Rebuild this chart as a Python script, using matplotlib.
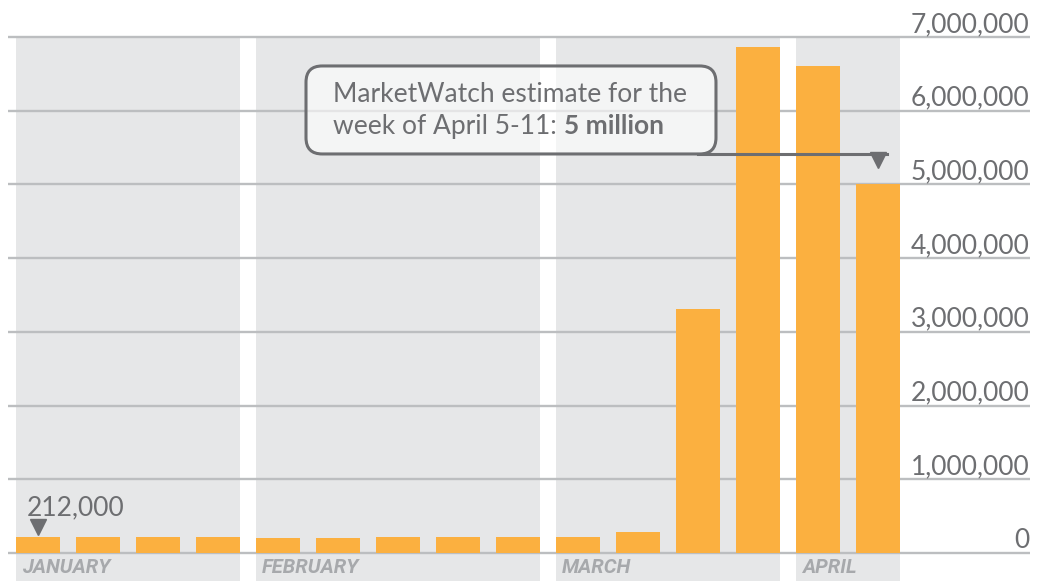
import numpy as np
import matplotlib
matplotlib.use("Agg")
import matplotlib.pyplot as plt
from matplotlib.patches import FancyBboxPatch

# weekly initial jobless claims, Jan - Apr 2020
claims = [212000, 211000, 223000, 214000, 205000, 204000, 222000, 222000, 221000,
          211000, 282000, 3307000, 6867000, 6606000, 5000000]
months = ["JANUARY", "FEBRUARY", "MARCH", "APRIL"]
weeks_per_month = [4, 5, 4, 2]
yticks = [0, 1000000, 2000000, 3000000, 4000000, 5000000, 6000000, 7000000]

BAR    = '#fbb040'
SHADE  = '#e6e7e8'
GRID   = '#bcbec0'
TXT    = '#6d6e71'
MONTH  = '#a7a9ac'

plt.rcParams['font.family'] = ['Lato', 'DejaVu Sans']

fig = plt.figure(figsize=(10.38, 5.81), dpi=100)
ax = fig.add_axes([0, 0, 1, 1])
ax.set_xlim(-0.633, 16.667)
ax.set_ylim(-380000, 7503000)
ax.axis('off')

x = np.arange(len(claims))
w = 0.733

# month bands
start = 0
for name, n in zip(months, weeks_per_month):
    x0 = x[start] - w / 2
    x1 = x[start + n - 1] + w / 2
    ax.fill_between([x0, x1], -400000, 7000000, color=SHADE, lw=0, zorder=0)
    ax.text(x0 + 0.1, -275000, name, color=MONTH, fontsize=14.5, fontweight='bold',
            fontstyle='italic', family=['Roboto', 'DejaVu Sans'], va='baseline', zorder=3)
    start += n

# gridlines + labels
for t in yticks:
    ax.plot([-0.5, 16.53], [t, t], color=GRID, lw=1.7, zorder=1, solid_capstyle='butt')
    ax.text(16.53, t + 70000, f"{t:,}", ha='right', va='baseline', color=TXT, fontsize=19)

ax.bar(x, claims, width=w, color=BAR, zorder=2)

# first-week callout
ax.text(-0.18, 516000, f"{claims[0]:,}", color=TXT, fontsize=19, va='baseline', zorder=4)
ax.plot([0], [355000], marker='v', color=TXT, ms=11, zorder=4)

# estimate callout box
box = FancyBboxPatch((4.467, 5414000), 11.3 - 4.467, 6608000 - 5414000,
                     boxstyle='round,pad=0,rounding_size=0.27', mutation_aspect=814000,
                     fc='white', alpha=0.6, ec='none', zorder=5)
ax.add_patch(box)
edge = FancyBboxPatch((4.467, 5414000), 11.3 - 4.467, 6608000 - 5414000,
                      boxstyle='round,pad=0,rounding_size=0.27', mutation_aspect=814000,
                      fc='none', ec=TXT, lw=2.2, zorder=6)
ax.add_patch(edge)
ax.plot([11.0, 14.15], [5414000, 5414000], color=TXT, lw=2.2, zorder=6)
ax.plot([14], [5330000], marker='v', color=TXT, ms=11, zorder=6)

ax.text(4.917, 6120000, "MarketWatch estimate for the", color=TXT, fontsize=19,
        va='baseline', zorder=7)
t = ax.text(4.917, 5685000, "week of April 5-11:", color=TXT, fontsize=19,
            va='baseline', zorder=7)
ax.annotate("5 million", xy=(1, 5685000), xycoords=(t, 'data'), xytext=(5, 0),
            textcoords='offset points', color=TXT, fontsize=19, fontweight='bold',
            va='baseline', zorder=7)

fig.savefig("out.png", dpi=100)
